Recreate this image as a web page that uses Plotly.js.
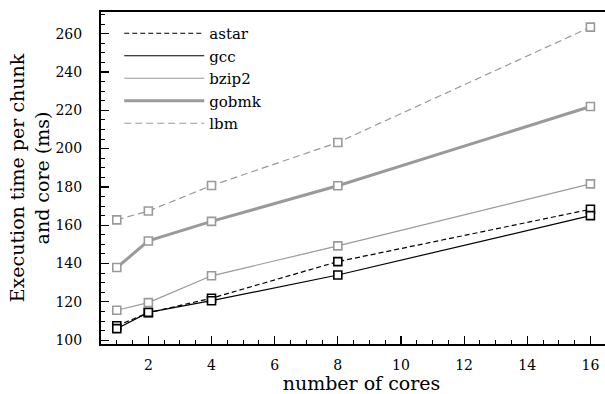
<!DOCTYPE html>
<html>
<head>
<meta charset="utf-8">
<script src="https://cdn.plot.ly/plotly-3.0.1.min.js"></script>
<style>html,body{margin:0;padding:0;background:#fff;overflow:hidden;}#chart{width:622px;height:394px;}</style>
</head>
<body>
<div id="chart"></div>
<script>
const cores = [1, 2, 4, 8, 16];
const astar = [107.5, 114.3, 121.9, 141, 168.3];
const gcc   = [106, 114.5, 120.6, 134, 165];
const bzip2 = [115.6, 119.6, 133.6, 149.2, 181.6];
const gobmk = [137.9, 151.8, 162, 180.6, 222];
const lbm   = [162.8, 167.4, 180.7, 203.2, 263.4];
const xTicks = [2, 4, 6, 8, 10, 12, 14, 16];
const yTicks = [100, 120, 140, 160, 180, 200, 220, 240, 260];

const series = [
  {name: 'astar', y: astar, color: '#000000', width: 1.2, dash: '5px,3px'},
  {name: 'gcc',   y: gcc,   color: '#000000', width: 1.2, dash: 'solid'},
  {name: 'bzip2', y: bzip2, color: '#9a9a9a', width: 1.2, dash: 'solid'},
  {name: 'gobmk', y: gobmk, color: '#9a9a9a', width: 3,   dash: 'solid'},
  {name: 'lbm',   y: lbm,   color: '#9a9a9a', width: 1.2, dash: '7px,4px'}
];

const traces = [];
series.forEach(s => {
  traces.push({x: cores, y: s.y, type: 'scatter', mode: 'lines', name: s.name,
    line: {color: s.color, width: s.width, dash: s.dash}, showlegend: true});
});
series.forEach(s => {
  traces.push({x: cores, y: s.y, type: 'scatter', mode: 'markers', name: s.name,
    marker: {symbol: 'square', size: 8, color: '#ffffff', line: {color: s.color, width: 1.6}},
    showlegend: false, hoverinfo: 'skip'});
});

const font = 'DejaVu Serif';
const layout = {
  width: 622, height: 394,
  margin: {l: 101, r: 0, t: 12, b: 50, autoexpand: false},
  paper_bgcolor: '#fff', plot_bgcolor: '#fff',
  font: {family: font, color: '#000', size: 14},
  showlegend: true,
  legend: {x: 0.035, y: 0.985, xanchor: 'left', yanchor: 'top', bgcolor: 'rgba(0,0,0,0)',
    font: {family: font, size: 15}, itemwidth: 80, tracegroupgap: 0},
  xaxis: {
    range: [0.5, 17], tickvals: xTicks, ticktext: xTicks.map(String),
    ticks: 'inside', ticklen: 8, tickwidth: 1.2, tickcolor: '#000', ticklabelstandoff: 7,
    minor: {dtick: 0.5, tick0: 0, ticks: 'inside', ticklen: 4, tickwidth: 1, tickcolor: '#000'},
    showline: true, linecolor: '#000', linewidth: 2, mirror: true,
    showgrid: false, zeroline: false, automargin: true,
    tickfont: {family: font, size: 14},
    title: {text: 'number of cores', font: {family: font, size: 19}, standoff: 0}
  },
  yaxis: {
    range: [98, 271.3], tickvals: yTicks, ticktext: yTicks.map(String),
    ticks: 'inside', ticklen: 8, tickwidth: 1.2, tickcolor: '#000', ticklabelstandoff: 14,
    minor: {dtick: 5, tick0: 0, ticks: 'inside', ticklen: 4, tickwidth: 1, tickcolor: '#000'},
    showline: true, linecolor: '#000', linewidth: 2, mirror: false,
    showgrid: false, zeroline: false, automargin: true,
    tickfont: {family: font, size: 14},
    title: {text: 'Execution time per chunk<br>and core (ms)', font: {family: font, size: 19}, standoff: 1}
  }
};

Plotly.newPlot('chart', traces, layout, {displayModeBar: false, staticPlot: true});
</script>
</body>
</html>
